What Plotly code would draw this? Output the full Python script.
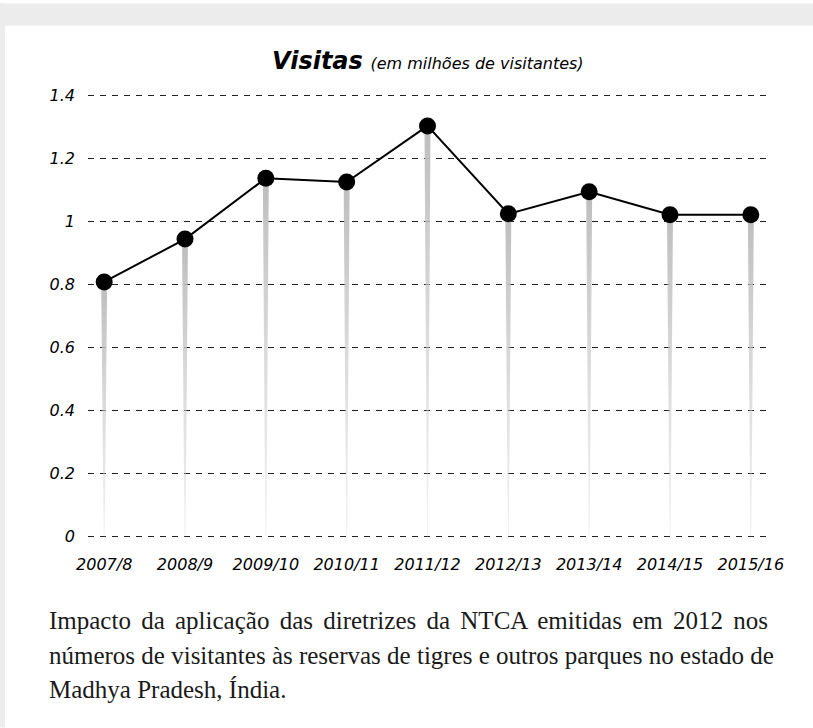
import plotly.graph_objects as go

# ---- data ----
years = ["2007/8", "2008/9", "2009/10", "2010/11", "2011/12",
         "2012/13", "2013/14", "2014/15", "2015/16"]
visits = [0.808, 0.944, 1.137, 1.125, 1.303, 1.024, 1.094, 1.021, 1.021]
y_ticks = [0, 0.2, 0.4, 0.6, 0.8, 1.0, 1.2, 1.4]
y_tick_text = ["0", "0.2", "0.4", "0.6", "0.8", "1", "1.2", "1.4"]
title_main = "Visitas"
title_sub = "(em milhões de visitantes)"
caption_lines = [
    "Impacto da aplicação das diretrizes da NTCA emitidas em 2012 nos",
    "números de visitantes às reservas de tigres e outros parques no estado de",
    "Madhya Pradesh, Índia.",
]
caption_word_spacing = [4, 0, 0]

W, H = 813, 728
PXU = 315.7            # pixels per unit on y
Y_LO, Y_HI = -0.02, 1.42
L, R = 88, 46
T = 95 - (Y_HI - 1.4) * PXU
B = 191 - (0 - Y_LO) * PXU
PW, PH = W - L - R, H - T - B

HAND = "DejaVu Sans"
xs = list(range(len(years)))

fig = go.Figure()

# tapered grey stems
top_half = 0.037
bot_half = 0.006
for x, v in zip(xs, visits):
    fig.add_trace(go.Scatter(
        x=[x - top_half, x + top_half, x + bot_half, x - bot_half, x - top_half],
        y=[v, v, 0, 0, v],
        mode="lines", line=dict(width=0), fill="toself",
        fillgradient=dict(type="vertical",
                          colorscale=[[0, "rgba(210,210,210,0.3)"], [1, "#bdbdbd"]]),
        hoverinfo="skip", showlegend=False))

fig.add_trace(go.Scatter(
    x=xs, y=visits, mode="lines+markers",
    line=dict(color="black", width=2),
    marker=dict(color="black", size=17),
    showlegend=False))

def px_x(p):
    return (p - L) / PW

def px_y(p):
    return (H - B - p) / PH

shapes = [
    dict(type="rect", xref="paper", yref="paper", x0=px_x(0), x1=px_x(W),
         y0=px_y(25), y1=px_y(3), fillcolor="#ececec", line=dict(width=0), layer="below"),
    dict(type="rect", xref="paper", yref="paper", x0=px_x(0), x1=px_x(5),
         y0=px_y(H), y1=px_y(3), fillcolor="#ececec", line=dict(width=0), layer="below"),
]

annotations = [
    dict(xref="paper", yref="paper", x=0.5, y=px_y(61), yanchor="middle", xanchor="center",
         showarrow=False,
         text=(f"<b><i>{title_main}</i></b> "
               f"<i><span style='font-size:16px'>{title_sub}</span></i>"),
         font=dict(family=HAND, size=24, color="black")),
]
for i, line in enumerate(caption_lines):
    txt = line
    if caption_word_spacing[i]:
        txt = f"<span style='word-spacing:{caption_word_spacing[i]}px'>{line}</span>"
    annotations.append(dict(
        xref="paper", yref="paper", x=px_x(47), y=px_y(621 + 34.5 * i),
        xanchor="left", yanchor="middle", showarrow=False, text=txt,
        font=dict(family="Liberation Serif", size=25, color="#1a1a1a")))

tick_font = dict(family=HAND, size=16, style="italic", color="black")

fig.update_layout(
    width=W, height=H,
    margin=dict(l=L, r=R, t=T, b=B),
    paper_bgcolor="white", plot_bgcolor="white",
    shapes=shapes, annotations=annotations,
    xaxis=dict(range=[-0.2, 8.2], tickvals=xs, ticktext=years,
               showgrid=False, zeroline=False, showline=False,
               ticks="", ticklabelstandoff=int(round(16 - (0 - Y_LO) * PXU)),
               tickfont=tick_font),
    yaxis=dict(range=[Y_LO, Y_HI], tickvals=y_ticks, ticktext=y_tick_text,
               showgrid=True, gridcolor="#222", griddash="6px,6px", gridwidth=1,
               zeroline=False, showline=False, ticks="", ticklabelstandoff=12,
               tickfont=tick_font),
)

fig.write_html("out.html", config={"displayModeBar": False},
               post_script="document.body.style.margin='0';document.body.style.overflow='hidden';")
